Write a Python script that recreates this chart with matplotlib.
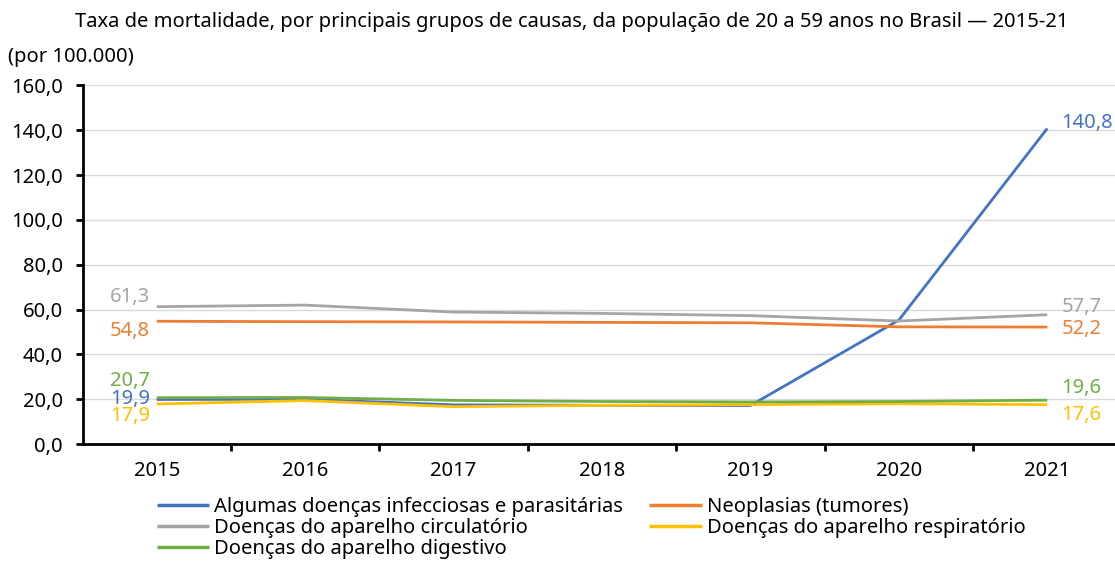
import matplotlib
matplotlib.use("Agg")
import matplotlib.pyplot as plt
from matplotlib.ticker import FixedLocator, FuncFormatter

plt.rcParams['font.family'] = ['Noto Sans', 'DejaVu Sans']

years = ["2015", "2016", "2017", "2018", "2019", "2020", "2021"]
infecciosas = [19.9, 20.0, 17.5, 17.3, 17.2, 55.3, 140.8]
neoplasias = [54.8, 54.6, 54.5, 54.3, 54.1, 52.3, 52.2]
circulatorio = [61.3, 62.0, 58.9, 58.3, 57.3, 54.9, 57.7]
respiratorio = [17.9, 19.4, 16.7, 17.3, 17.6, 18.0, 17.6]
digestivo = [20.7, 20.8, 19.5, 19.0, 18.8, 19.0, 19.6]

series = [
    ("Algumas doenças infecciosas e parasitárias", infecciosas, "#4472C4"),
    ("Neoplasias (tumores)", neoplasias, "#ED7D31"),
    ("Doenças do aparelho circulatório", circulatorio, "#A5A5A5"),
    ("Doenças do aparelho respiratório", respiratorio, "#FFC000"),
    ("Doenças do aparelho digestivo", digestivo, "#70AD47"),
]

FS = 14.5

fig = plt.figure(figsize=(11.15, 5.61), dpi=100)
ax = fig.add_axes([82.5 / 1115, (561 - 444.1) / 561, (1121.5 - 82.5) / 1115, 358.7 / 561])

x = list(range(len(years)))
handles = {}
for name, vals, col in series:
    h, = ax.plot(x, vals, color=col, lw=2.0, solid_capstyle='butt', label=name, zorder=3)
    handles[name] = h

ax.set_xlim(-0.5, len(years) - 0.5)
ax.set_ylim(0, 160)
ax.yaxis.set_major_locator(FixedLocator(range(0, 161, 20)))
ax.yaxis.set_major_formatter(FuncFormatter(lambda v, p: f"{v:.1f}".replace(".", ",")))
ax.set_xticks(x)
ax.set_xticklabels(years)
ax.set_xticks([i + 0.5 for i in range(len(years) - 1)], minor=True)
ax.tick_params(axis='x', which='major', length=0, pad=12, labelsize=FS)
ax.tick_params(axis='x', which='minor', length=5, width=2, direction='out')
ax.tick_params(axis='y', which='major', length=5, width=2, direction='out', pad=9, labelsize=FS)
ax.grid(axis='y', color='#D9D9D9', lw=1, zorder=0)
ax.set_axisbelow(True)
for s in ['top', 'right']:
    ax.spines[s].set_visible(False)
for s in ['left', 'bottom']:
    ax.spines[s].set_linewidth(2)
    ax.spines[s].set_color('black')

# data labels (first and last points)
left_off = {"Algumas doenças infecciosas e parasitárias": 0,
            "Neoplasias (tumores)": -10,
            "Doenças do aparelho circulatório": 10,
            "Doenças do aparelho respiratório": -12,
            "Doenças do aparelho digestivo": 17}
right_off = {"Algumas doenças infecciosas e parasitárias": 5,
             "Neoplasias (tumores)": -2,
             "Doenças do aparelho circulatório": 8,
             "Doenças do aparelho respiratório": -10,
             "Doenças do aparelho digestivo": 12}
for name, vals, col in series:
    ax.annotate(f"{vals[0]:.1f}".replace(".", ","), (x[0], vals[0]),
                xytext=(-7, left_off[name]), textcoords='offset pixels',
                ha='right', va='center', color=col, fontsize=FS, zorder=4)
    ax.annotate(f"{vals[-1]:.1f}".replace(".", ","), (x[-1], vals[-1]),
                xytext=(14, right_off[name]), textcoords='offset pixels',
                ha='left', va='center', color=col, fontsize=FS, zorder=4)

fig.text(572 / 1115, 1 - 22 / 561,
         "Taxa de mortalidade, por principais grupos de causas, da população de 20 a 59 anos no Brasil — 2015-21",
         ha='center', va='center', fontsize=FS)
fig.text(8 / 1115, 1 - 57 / 561, "(por 100.000)", ha='left', va='center', fontsize=FS)

order = ["Algumas doenças infecciosas e parasitárias",
         "Doenças do aparelho circulatório",
         "Doenças do aparelho digestivo",
         "Neoplasias (tumores)",
         "Doenças do aparelho respiratório"]
leg = fig.legend([handles[n] for n in order], order, ncol=2,
                 loc='upper left', bbox_to_anchor=(157 / 1115, 1 - 497 / 561),
                 frameon=False, fontsize=FS, handlelength=2.6, handletextpad=0.25,
                 columnspacing=1.3, labelspacing=0.05, borderaxespad=0, borderpad=0)
for lh in leg.get_lines():
    lh.set_linewidth(2.5)

fig.savefig("out.png", dpi=100)
